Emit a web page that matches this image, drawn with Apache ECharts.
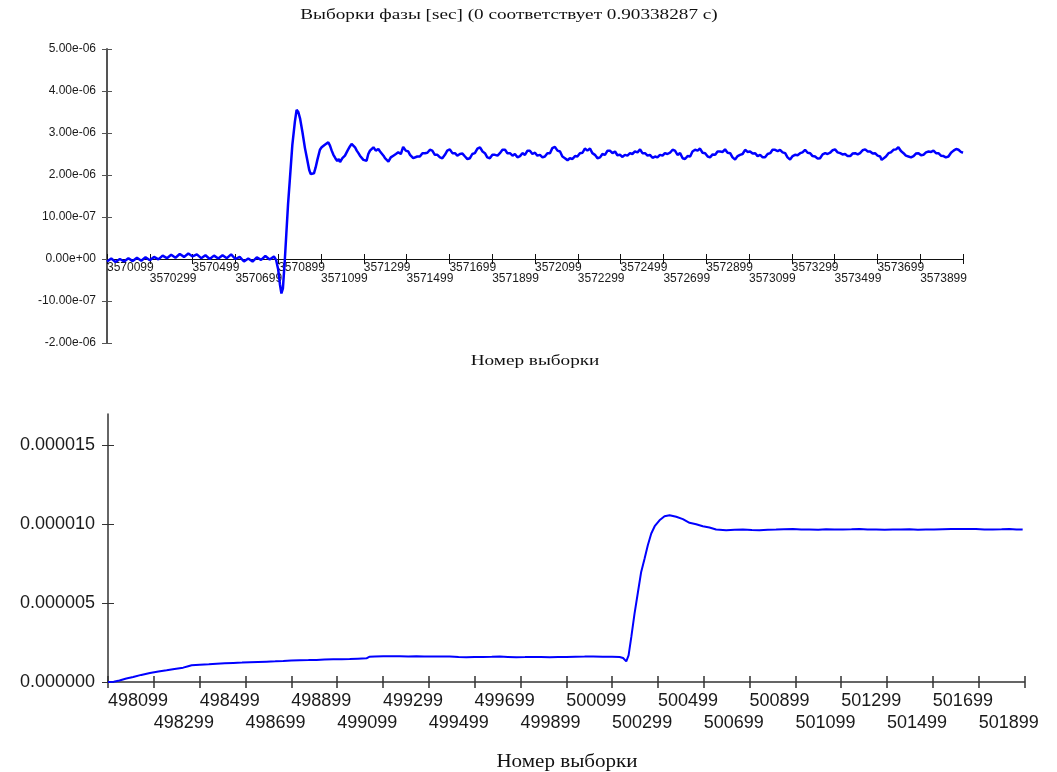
<!DOCTYPE html>
<html>
<head>
<meta charset="utf-8">
<script src="https://cdn.jsdelivr.net/npm/echarts@6/dist/echarts.min.js"></script>
<style>
html,body{margin:0;padding:0;background:#fff;}
#chart{width:1057px;height:772px;}
</style>
</head>
<body>
<div id="chart"></div>
<script>
// ---------------- Top chart: phase samples (values in units of 1e-6 s) ----------------
const topTitle = 'Выборки фазы [sec] (0 соответствует 0.90338287 с)';
const xName = 'Номер выборки';
const topBaseSample = 3570099;
const topEndSample = 3574099;
const topXLabels = ['3570099','3570299','3570499','3570699','3570899','3571099','3571299','3571499','3571699','3571899',
  '3572099','3572299','3572499','3572699','3572899','3573099','3573299','3573499','3573699','3573899'];
const topYTickValues = [-2, -1, 0, 1, 2, 3, 4, 5]; // x 1e-6
const topYLabels = ['-2.00e-06','-10.00e-07','0.00e+00','10.00e-07','2.00e-06','3.00e-06','4.00e-06','5.00e-06'];
const topOffsets = [0,20,40,60,80,100,120,140,160,180,200,220,240,260,280,300,320,340,360,380,400,420,440,460,480,500,520,540,560,580,600,620,640,660,680,700,720,740,760,780,790,
  800,808,815,822,830,838,846,855,866,878,886,894,902,913,925,935,945,952,960,967,975,983,995,1003,1011,1018,1026,1034,1042,1050,1058,1067,1076,1083,1089,1100,1112,1124,1135,1143,1151,1159,1167,1175,1182,1190,1198,1206,1213,1221,1229,1237,1245,1256,1268,1276,1284,1292,1299,1307,1315,1326,1338,1350,1361,1373,
  1384,1396,1408,1416,1423,1431,1439,1450,1462,1474,1486,1497,1509,1520,1532,1544,1556,1567,1579,1590,1602,1614,1626,1637,1649,1661,1673,1684,1696,1707,1719,1731,1743,1755,1766,1777,1789,1801,1813,1825,1836,1848,1860,1871,1883,1895,1906,1918,1930,1941,1953,1965,1976,1988,
  2000,2011,2023,2035,2046,2058,2070,2081,2093,2105,2117,2128,2140,2152,2163,2175,2187,2198,2210,2222,2233,2245,2257,2268,2280,2292,2304,2315,2327,2339,2350,2362,2374,2385,2397,2409,2420,2432,2444,2455,2467,2479,2491,2502,2514,2526,2537,2549,2561,2572,2584,2596,2607,2619,2631,2643,2654,2666,2678,2690,
  2701,2713,2725,2736,2748,2760,2771,2783,2795,2807,2818,2830,2842,2853,2865,2877,2888,2900,2912,2923,2935,2947,2958,2970,2982,2993,3005,3017,3029,3040,3052,3064,3075,3087,3099,3110,3122,3134,3145,3157,3169,3180,3192,3204,3215,3227,3239,3250,3262,3274,3286,3297,3309,3321,3332,3344,3356,3367,3379,3391,
  3402,3414,3426,3437,3449,3461,3473,3484,3496,3508,3519,3531,3543,3555,3566,3578,3589,3601,3613,3620,3628,3640,3652,3663,3675,3687,3698,3710,3722,3733,3745,3757,3769,3780,3792,3804,3815,3827,3839,3851,3862,3874,3885,3897,3909,3920,3932,3944,3956,3968,3979,3990,4000];
const topValues = [-0.06,0.01,-0.07,0.00,-0.06,0.02,-0.05,0.03,-0.04,0.04,-0.03,0.05,-0.01,0.08,0.02,0.10,0.03,0.12,0.05,0.13,0.06,0.11,0.02,0.09,0.00,0.08,0.01,0.09,0.02,0.11,0.00,0.05,-0.06,0.01,-0.06,0.04,-0.02,0.07,-0.01,0.06,-0.02,
  -0.25,-0.60,-0.82,-0.70,-0.10,0.60,1.30,1.93,2.71,3.27,3.55,3.50,3.35,3.03,2.64,2.38,2.12,2.02,2.00,2.04,2.18,2.36,2.60,2.66,2.62,2.72,2.68,2.78,2.70,2.58,2.48,2.40,2.33,2.38,2.31,2.40,2.46,2.58,2.68,2.74,2.70,2.66,2.58,2.52,2.46,2.42,2.36,2.40,2.34,2.50,2.58,2.62,2.66,2.58,2.62,2.56,2.58,2.46,2.40,2.36,2.32,2.42,2.46,2.50,2.54,2.50,
  2.67,2.58,2.56,2.48,2.48,2.40,2.36,2.44,2.44,2.52,2.52,2.53,2.60,2.58,2.48,2.48,2.42,2.40,2.48,2.58,2.61,2.52,2.52,2.46,2.50,2.51,2.44,2.38,2.40,2.50,2.52,2.63,2.66,2.56,2.52,2.42,2.40,2.48,2.48,2.46,2.52,2.60,2.60,2.52,2.52,2.46,2.50,2.42,2.45,2.52,2.48,2.58,2.58,2.50,
  2.53,2.46,2.48,2.42,2.44,2.52,2.52,2.64,2.67,2.58,2.56,2.44,2.40,2.35,2.40,2.38,2.45,2.44,2.52,2.53,2.63,2.58,2.63,2.52,2.48,2.40,2.42,2.50,2.48,2.58,2.58,2.52,2.56,2.47,2.48,2.43,2.48,2.46,2.52,2.50,2.56,2.54,2.61,2.52,2.52,2.46,2.48,2.41,2.44,2.42,2.48,2.46,2.52,2.50,2.53,2.60,2.58,2.48,2.52,2.40,
  2.38,2.45,2.44,2.56,2.60,2.58,2.63,2.53,2.52,2.44,2.42,2.49,2.48,2.56,2.56,2.55,2.61,2.53,2.52,2.42,2.37,2.45,2.48,2.50,2.60,2.55,2.56,2.51,2.52,2.45,2.48,2.42,2.42,2.50,2.52,2.60,2.60,2.57,2.60,2.54,2.52,2.42,2.37,2.45,2.48,2.47,2.52,2.54,2.60,2.53,2.52,2.45,2.44,2.39,2.40,2.49,2.52,2.50,2.53,2.59,
  2.61,2.54,2.52,2.49,2.50,2.45,2.45,2.51,2.52,2.49,2.52,2.59,2.61,2.56,2.56,2.51,2.52,2.46,2.44,2.36,2.32,2.44,2.52,2.54,2.60,2.61,2.66,2.57,2.52,2.46,2.44,2.42,2.45,2.51,2.52,2.47,2.48,2.54,2.56,2.55,2.58,2.52,2.52,2.46,2.45,2.42,2.44,2.53,2.58,2.62,2.60,2.55,2.53];

// ---------------- Bottom chart (values in units of 1e-6) ----------------
const botBaseSample = 498099;
const botEndSample = 502099;
const botXLabels = ['498099','498299','498499','498699','498899','499099','499299','499499','499699','499899',
  '500099','500299','500499','500699','500899','501099','501299','501499','501699','501899'];
const botYTickValues = [0, 5, 10, 15]; // x 1e-6
const botYLabels = ['0.000000','0.000005','0.000010','0.000015'];
const botYMax = 17; // x 1e-6
const botOffsets = [0,25,50,80,110,145,183,220,256,290,328,350,365,401,440,474,510,547,585,619,655,692,730,765,800,837,875,910,945,983,1020,1055,1090,1128,1140,1165,1201,1240,1274,1310,1346,1380,1419,1455,1492,1530,1564,1600,1637,1675,1710,1745,1782,1820,1855,1890,1928,1965,
  2000,2040,2080,2117,2160,2200,2233,2248,2255,2262,2272,2284,2298,2313,2327,2342,2356,2371,2386,2407,2429,2451,2480,2509,2538,2567,2596,2625,2654,2698,2735,2771,2810,2843,2880,2916,2950,2989,3025,3061,3100,3134,3170,3207,3245,3280,3315,3352,3390,3425,3460,3498,3535,3570,3605,3643,3680,3716,3750,3788,3825,3861,3900,3934,3965,3992];
const botValues = [0.00,0.02,0.10,0.22,0.32,0.45,0.57,0.66,0.74,0.82,0.91,1.00,1.06,1.10,1.13,1.16,1.19,1.21,1.23,1.25,1.27,1.29,1.31,1.33,1.36,1.38,1.39,1.40,1.42,1.44,1.45,1.46,1.48,1.50,1.60,1.62,1.63,1.63,1.63,1.62,1.63,1.62,1.61,1.61,1.61,1.58,1.57,1.59,1.59,1.60,1.61,1.59,1.57,1.58,1.59,1.58,1.57,1.58,
  1.59,1.60,1.61,1.62,1.60,1.60,1.59,1.52,1.42,1.31,1.69,2.86,4.34,5.71,6.98,7.83,8.68,9.42,9.88,10.26,10.52,10.58,10.48,10.33,10.10,10.01,9.88,9.80,9.67,9.63,9.65,9.67,9.64,9.63,9.66,9.67,9.69,9.71,9.68,9.67,9.66,9.69,9.68,9.67,9.69,9.71,9.68,9.67,9.66,9.67,9.68,9.69,9.66,9.67,9.68,9.69,9.70,9.71,9.70,9.71,9.68,9.67,9.69,9.71,9.68,9.67];

const U = 1e-6;
const topData = topOffsets.map((o, i) => [topBaseSample + o, topValues[i] * U]);
const botData = botOffsets.map((o, i) => [botBaseSample + o, botValues[i] * U]);
const topXTicks = topXLabels.map(Number).concat([topEndSample]);
const botXTicks = botXLabels.map(Number).concat([botEndSample]);
const topYTicks = topYTickValues.map(v => v * U);
const botYTicks = botYTickValues.map(v => v * U);

const SANS = '"Liberation Sans", Arial, sans-serif';
const SERIF = '"Liberation Serif", "Times New Roman", serif';

// top grid spans y from 49 (5e-6) to 343 (-2e-6); zero line is 84 px above the bottom
const TOP_ZERO_OFFSET = -84;

// Two overlaid x axes per grid: the first carries the line, outward ticks and the upper row
// of labels; the second carries inward ticks and the lower (staggered) row of labels.
function xAxes(gridIndex, min, max, ticks, labels, fontSize, lineHeight, margin, lineColor, lineWidth, tickLen, offset) {
  const labelVals = labels.map(Number);
  const upper = labelVals.filter((v, i) => i % 2 === 0);
  const lower = labelVals.filter((v, i) => i % 2 === 1);
  const fmt = v => { const i = labelVals.indexOf(Math.round(v)); return i >= 0 ? labels[i] : ''; };
  const common = { fontSize, lineHeight, color: '#1a1a1a', fontFamily: SANS, align: 'left',
    showMinLabel: true, showMaxLabel: true, hideOverlap: false, formatter: fmt };
  return [{
    type: 'value', gridIndex, min, max, position: 'bottom', offset,
    axisLine: { show: true, onZero: false, lineStyle: { color: lineColor, width: lineWidth } },
    axisTick: { show: true, customValues: ticks, length: tickLen, lineStyle: { color: lineColor, width: lineWidth } },
    axisLabel: Object.assign({ show: true, customValues: upper, margin }, common),
    splitLine: { show: false }
  }, {
    type: 'value', gridIndex, min, max, position: 'bottom', offset,
    axisLine: { show: false, onZero: false },
    axisTick: { show: true, inside: true, customValues: ticks, length: tickLen, lineStyle: { color: lineColor, width: lineWidth } },
    axisLabel: Object.assign({ show: true, inside: false, customValues: lower, margin: margin + lineHeight }, common),
    splitLine: { show: false }
  }];
}
function yAxes(gridIndex, min, max, ticks, labelFn, fontSize, margin, lineColor, lineWidth, tickLen) {
  return [{
    type: 'value', gridIndex, min, max, position: 'left',
    axisLine: { show: true, onZero: false, lineStyle: { color: lineColor, width: lineWidth } },
    axisTick: { show: true, customValues: ticks, length: tickLen, lineStyle: { color: lineColor, width: 1 } },
    axisLabel: { show: true, customValues: ticks, showMinLabel: true, showMaxLabel: true,
      formatter: labelFn, fontSize, margin, color: '#1a1a1a', fontFamily: SANS },
    splitLine: { show: false }
  }, {
    type: 'value', gridIndex, min, max, position: 'left',
    axisLine: { show: false, onZero: false },
    axisTick: { show: true, inside: true, customValues: ticks, length: tickLen, lineStyle: { color: lineColor, width: 1 } },
    axisLabel: { show: false },
    splitLine: { show: false }
  }];
}

function label(text, x, y, size, sx) {
  return { type: 'text', x, y, scaleX: sx, scaleY: 1,
    style: { text, textAlign: 'center', textVerticalAlign: 'middle', font: size + 'px ' + SERIF, fill: '#111' } };
}

const chart = echarts.init(document.getElementById('chart'), null, { renderer: 'canvas' });
chart.setOption({
  animation: false,
  backgroundColor: '#ffffff',
  grid: [
    { left: 107, top: 49, width: 856, height: 294 },
    { left: 108, top: 414, width: 916.5, height: 268 }
  ],
  xAxis: [].concat(
    xAxes(0, topBaseSample, topEndSample, topXTicks, topXLabels, 12, 11, 3, '#111', 1, 5, TOP_ZERO_OFFSET),
    xAxes(1, botBaseSample, botEndSample, botXTicks, botXLabels, 18, 22, 8, '#333', 1.5, 6, 0)
  ),
  yAxis: [].concat(
    yAxes(0, -2 * U, 5 * U, topYTicks, v => topYLabels[Math.round(v / U) + 2] || '', 12, 11, '#555', 2, 5),
    yAxes(1, 0, botYMax * U, botYTicks, v => botYLabels[Math.round(v / U / 5)] || '', 18, 13, '#333', 1.5, 6)
  ),
  series: [
    { type: 'line', xAxisIndex: 0, yAxisIndex: 0, data: topData, showSymbol: false, symbol: 'none',
      lineStyle: { color: '#0000ff', width: 2.5 }, silent: true },
    { type: 'line', xAxisIndex: 2, yAxisIndex: 2, data: botData, showSymbol: false, symbol: 'none',
      lineStyle: { color: '#0000ff', width: 2 }, silent: true }
  ],
  graphic: [
    label(topTitle, 509, 15, 15, 1.28),
    label(xName, 535, 361, 15, 1.28),
    label(xName, 567, 762, 18, 1.17)
  ]
});
</script>
</body>
</html>
